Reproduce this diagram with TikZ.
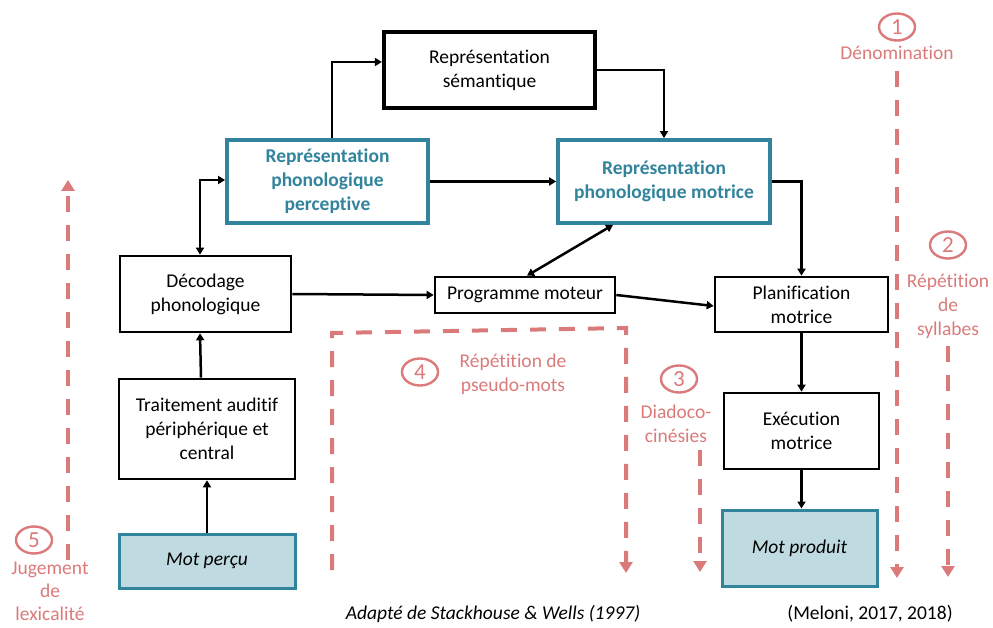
\documentclass[tikz,border=0pt]{standalone}
\usepackage{fontspec}
\setmainfont{Carlito}[RawFeature={-liga;-calt;-dlig;-clig}]
\usetikzlibrary{arrows.meta,calc,shapes.geometric}
\definecolor{tealc}{RGB}{49,132,155}
\definecolor{pinkc}{RGB}{218,122,122}
\definecolor{lblue}{RGB}{191,218,225}
\begin{document}
\begin{tikzpicture}[x=1pt,y=-1pt,
  every node/.style={font=\fontsize{19.5}{24}\selectfont, inner sep=0pt, align=center},
  blackbox/.style={draw=black, line width=2.6pt, rectangle, fill=white},
  thickbox/.style={draw=black, line width=4.2pt, rectangle, fill=white},
  tealbox/.style={draw=tealc, line width=3.8pt, rectangle, fill=white, text=tealc, font=\fontsize{19.5}{24}\selectfont\bfseries},
  fillbox/.style={draw=tealc, line width=3pt, rectangle, fill=lblue, font=\fontsize{19.5}{24}\selectfont\itshape},
  arr/.style={draw=black, line width=2.5pt, -{Triangle[length=7pt,width=8pt]}},
  darr/.style={draw=black, line width=2.5pt, {Triangle[length=7pt,width=8pt]}-{Triangle[length=7pt,width=8pt]}},
  pinkarr/.style={draw=pinkc, line width=4pt, dash pattern=on 16pt off 13pt, -{Triangle[length=11pt,width=13pt]}},
  circnum/.style={draw=pinkc, line width=2.4pt, ellipse, minimum width=36pt, minimum height=27pt, text=pinkc, font=\fontsize{23}{24}\selectfont},
  pinklabel/.style={text=pinkc}
]
\useasboundingbox (0,0) rectangle (993,628);

% boxes
\node[thickbox, minimum width=211pt, minimum height=76pt] (sem) at (489.5,70) {Représentation\\sémantique};
\node[tealbox, minimum width=201pt, minimum height=83pt] (perc) at (327.5,181.5) {Représentation\\phonologique\\perceptive};
\node[tealbox, minimum width=212pt, minimum height=83pt] (motr) at (664,181.5) {Représentation\\phonologique motrice};
\node[blackbox, minimum width=171pt, minimum height=76pt] (deco) at (205.5,294) {Décodage\\phonologique};
\node[blackbox, minimum width=176pt, minimum height=100pt] (trait) at (207,429) {Traitement auditif\\périphérique et\\central};
\node[fillbox, minimum width=176pt, minimum height=54pt] (percu) at (207,561) {Mot perçu};
\node[blackbox, minimum width=180pt, minimum height=36pt] (prog) at (525,295) {Programme moteur};
\node[blackbox, minimum width=173pt, minimum height=55pt] (plan) at (801.5,304.5) {Planification\\motrice};
\node[blackbox, minimum width=155pt, minimum height=76pt] (exec) at (801.5,431) {Exécution\\motrice};
\node[fillbox, minimum width=155pt, minimum height=76pt] (prod) at (799.5,548) {Mot produit};

% connectors
\draw[arr] (percu.north) -- (trait.south);
\draw[arr] ([xshift=-6pt]trait.north) -- ([xshift=-5.5pt]deco.south);
\draw[darr] ([xshift=-5.5pt]deco.north) |- ([yshift=1.5pt]perc.west);
\draw[arr] ([xshift=4.5pt]perc.north) |- ([yshift=8pt]sem.west);
\draw[arr] (sem.east) -| (motr.north);
\draw[arr] (perc.east) -- (motr.west);
\draw[darr] ([xshift=-51pt]motr.south) -- ([xshift=2pt]prog.north);
\draw[arr] (motr.east) -| (plan.north);
\draw[arr] (deco.east) -- (prog.west);
\draw[arr] (prog.east) -- ([yshift=-1.5pt]plan.west);
\draw[arr] (plan.south) -- (exec.north);
\draw[arr] (exec.south) -- (exec.south |- prod.north);

% pink dashed tasks
\coordinate (d5a) at (68,560); \coordinate (d5b) at (68,180);
\coordinate (d1a) at (897,71); \coordinate (d1b) at (897,578);
\coordinate (d2a) at (948,346); \coordinate (d2b) at (948,577);
\coordinate (d3a) at (700,450); \coordinate (d3b) at (700,572);
\coordinate (d4a) at (332,570); \coordinate (d4b) at (332,333);
\coordinate (d4c) at (626,328); \coordinate (d4d) at (626,573);
\draw[pinkarr] (d5a) -- (d5b);
\draw[pinkarr] (d1a) -- (d1b);
\draw[pinkarr] (d2a) -- (d2b);
\draw[pinkarr] (d3a) -- (d3b);
\draw[pinkarr] (d4a) -- (d4b) -- (d4c) -- (d4d);

% pink labels
\node[circnum] (c1) at (897,27) {1};
\node[pinklabel] (l1) at (897,53) {Dénomination};
\node[circnum] (c2) at (948,245) {2};
\node[pinklabel] (l2) at (948,306) {Répétition\\de\\syllabes};
\node[circnum] (c3) at (679,379) {3};
\node[pinklabel] (l3) at (676,423.5) {Diadoco-\\cinésies};
\node[circnum] (c4) at (420,372) {4};
\node[pinklabel] (l4) at (513,374.5) {Répétition de\\pseudo-mots};
\node[circnum] (c5) at (34,540) {5};
\node[pinklabel, font=\fontsize{19.5}{23}\selectfont] (l5) at (50,591) {Jugement\\de\\lexicalité};

% captions
\node (cap) at (493,614) {\itshape Adapté de Stackhouse \& Wells (1997)};
\node (mel) at (870,614) {(Meloni, 2017, 2018)};
\end{tikzpicture}
\end{document}
